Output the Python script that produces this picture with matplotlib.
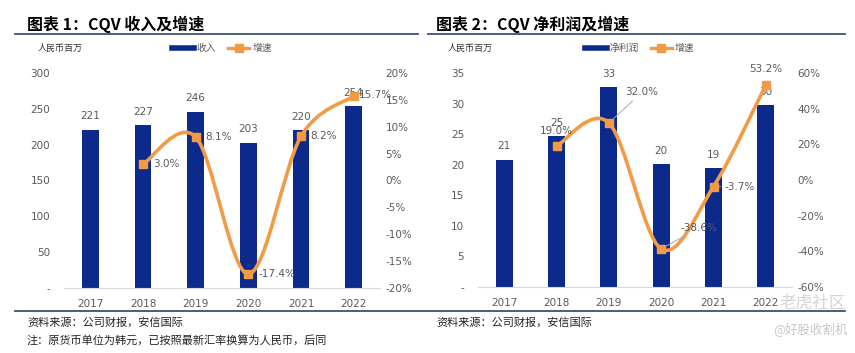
import numpy as np
import matplotlib
matplotlib.use("Agg")
import matplotlib.pyplot as plt
from matplotlib.path import Path
from matplotlib.patches import PathPatch
from matplotlib.lines import Line2D
from matplotlib.ticker import FuncFormatter

plt.rcParams['font.family'] = ['Noto Sans CJK SC', 'DejaVu Sans']

years = ['2017', '2018', '2019', '2020', '2021', '2022']

# chart 1: revenue (RMB mn) and growth (%)
revenue = [221, 227, 246, 203, 220, 254]
rev_growth = [None, 3.0, 8.1, -17.4, 8.2, 15.7]

# chart 2: net profit (RMB mn) and growth (%)
profit = [20.8, 24.7, 32.7, 20.1, 19.4, 29.7]
profit_labels = ['21', '25', '33', '20', '19', '30']
profit_growth = [None, 19.0, 32.0, -38.6, -3.7, 53.2]

navy = '#0B2A8C'
orange = '#F39A45'
gray = '#595959'
rule = '#3C5078'


def smooth_path(xs, ys):
    # Catmull-Rom style bezier, like the "smoothed line" of spreadsheet charts
    pts = np.column_stack([xs, ys]).astype(float)
    verts = [pts[0]]
    codes = [Path.MOVETO]
    n = len(pts)
    for i in range(n - 1):
        p0 = pts[i - 1] if i > 0 else pts[i]
        p1 = pts[i]
        p2 = pts[i + 1]
        p3 = pts[i + 2] if i + 2 < n else pts[i + 1]
        c1 = p1 + (p2 - p0) / 6.0
        c2 = p2 - (p3 - p1) / 6.0
        verts += [c1, c2, p2]
        codes += [Path.CURVE4] * 3
    return Path(verts, codes)


def draw_chart(rect, bars, bar_labels, growth, ymax, ystep, gmin, gmax, gstep):
    ax = fig.add_axes(rect)
    x = np.arange(len(years))
    ax.bar(x, bars, width=0.32, color=navy, zorder=2)
    for xi, v, lab in zip(x, bars, bar_labels):
        ax.annotate(lab, (xi, v), xytext=(0, 6), textcoords='offset points',
                    ha='center', va='bottom', fontsize=7.5, color=gray, family='DejaVu Sans')
    ax.set_xlim(-0.5, len(years) - 0.5)
    ax.set_ylim(0, ymax)
    ax.set_yticks(np.arange(0, ymax + 0.1, ystep))
    ax.yaxis.set_major_formatter(FuncFormatter(lambda v, p: '-' if v == 0 else f'{v:g}'))
    ax.set_xticks(x)
    ax.set_xticklabels(years)
    for s in ['top', 'right', 'left']:
        ax.spines[s].set_visible(False)
    ax.spines['bottom'].set_color('#D9D9D9')
    ax.tick_params(length=0, labelsize=7.5, colors=gray, pad=10)
    ax.tick_params(axis='x', pad=8)
    for t in ax.get_xticklabels() + ax.get_yticklabels():
        t.set_family('DejaVu Sans')

    ax2 = ax.twinx()
    ax2.set_ylim(gmin, gmax)
    ax2.set_yticks(np.arange(gmin, gmax + 0.1, gstep))
    ax2.yaxis.set_major_formatter(FuncFormatter(lambda v, p: f'{v:.0f}%'))
    for s in ['top', 'right', 'left', 'bottom']:
        ax2.spines[s].set_visible(False)
    ax2.tick_params(length=0, labelsize=7.5, colors=gray, pad=4)
    for t in ax2.get_yticklabels():
        t.set_family('DejaVu Sans')

    gx = [xi for xi, g in zip(x, growth) if g is not None]
    gy = [g for g in growth if g is not None]
    ax2.add_patch(PathPatch(smooth_path(gx, gy), fill=False, edgecolor=orange,
                            lw=2.6, capstyle='round', zorder=3))
    ax2.plot(gx, gy, ls='none', marker='s', ms=6, color=orange, zorder=4)
    return ax, ax2, gx, gy


fig = plt.figure(figsize=(8.55, 3.53), dpi=100)

# left chart
ax, ax2, gx, gy = draw_chart([64 / 855, 1 - 288 / 353, 316 / 855, 215 / 353],
                             revenue, [str(v) for v in revenue], rev_growth,
                             300, 50, -20, 20, 5)
for xi, g in zip(gx, gy):
    off = (4, 1) if xi == 5 else (7, 0)
    ax2.annotate(f'{g:.1f}%', (xi, g), xytext=off, textcoords='offset points',
                 ha='left', va='center', fontsize=7.5, color=gray, family='DejaVu Sans')

# right chart
bx, bx2, hx, hy = draw_chart([478 / 855, 1 - 287 / 353, 314 / 855, 214 / 353],
                             profit, profit_labels, profit_growth,
                             35, 5, -60, 60, 20)
offsets = {1: (0, 7, 'center', 'bottom', False),
           2: (12, 22, 'left', 'center', True),
           3: (14, 15, 'left', 'center', True),
           4: (8, 0, 'left', 'center', True),
           5: (0, 8, 'center', 'bottom', False)}
for xi, g in zip(hx, hy):
    dx, dy, ha, va, lead = offsets[xi]
    kw = {}
    if lead:
        kw['arrowprops'] = dict(arrowstyle='-', color='#A6A6A6', lw=0.7,
                                shrinkA=1, shrinkB=3)
    bx2.annotate(f'{g:.1f}%', (xi, g), xytext=(dx, dy), textcoords='offset points',
                 ha=ha, va=va, fontsize=7.5, color=gray, family='DejaVu Sans', **kw)

# titles, rules, legends
fig.text(27 / 855, 1 - 24 / 353, '图表 1：CQV 收入及增速', fontsize=11.5, fontweight='bold',
         va='center', ha='left')
fig.text(436 / 855, 1 - 24 / 353, '图表 2：CQV 净利润及增速', fontsize=11.5, fontweight='bold',
         va='center', ha='left')
fig.add_artist(Line2D([15 / 855, 418 / 855], [1 - 34 / 353] * 2, color=rule, lw=1.3))
fig.add_artist(Line2D([428 / 855, 845 / 855], [1 - 34 / 353] * 2, color=rule, lw=1.3))
fig.add_artist(Line2D([15 / 855, 845 / 855], [1 - 311 / 353] * 2, color=rule, lw=1.3))

fig.text(38 / 855, 1 - 48 / 353, '人民币百万', fontsize=6.5, va='center', color='#333333')
fig.text(448 / 855, 1 - 48 / 353, '人民币百万', fontsize=6.5, va='center', color='#333333')

for cx, name in [(222, '收入'), (640, '净利润')]:
    handles = [Line2D([], [], color=navy, lw=4),
               Line2D([], [], color=orange, lw=2.4, marker='s', ms=6)]
    fig.legend(handles, [name, '增速'], loc='center', ncol=2, frameon=False,
               bbox_to_anchor=(cx / 855, 1 - 48 / 353), fontsize=7, handlelength=2.2,
               handletextpad=0.3, columnspacing=1.2, labelcolor='#595959')

# footnotes
fig.text(27 / 855, 1 - 322 / 353, '资料来源：公司财报，安信国际', fontsize=8, va='center',
         color='#222222')
fig.text(27 / 855, 1 - 340 / 353, '注：原货币单位为韩元，已按照最新汇率换算为人民币，后同',
         fontsize=8, va='center', color='#222222')
fig.text(436 / 855, 1 - 322 / 353, '资料来源：公司财报，安信国际', fontsize=8, va='center',
         color='#222222')

# watermarks
fig.text(846 / 855, 1 - 303 / 353, '老虎社区', fontsize=12, ha='right', va='center',
         color='#D5D5D5')
fig.text(848 / 855, 1 - 330 / 353, '@好股收割机', fontsize=9, ha='right', va='center',
         color='#C8C8C8')

fig.savefig('out.png', dpi=100)
